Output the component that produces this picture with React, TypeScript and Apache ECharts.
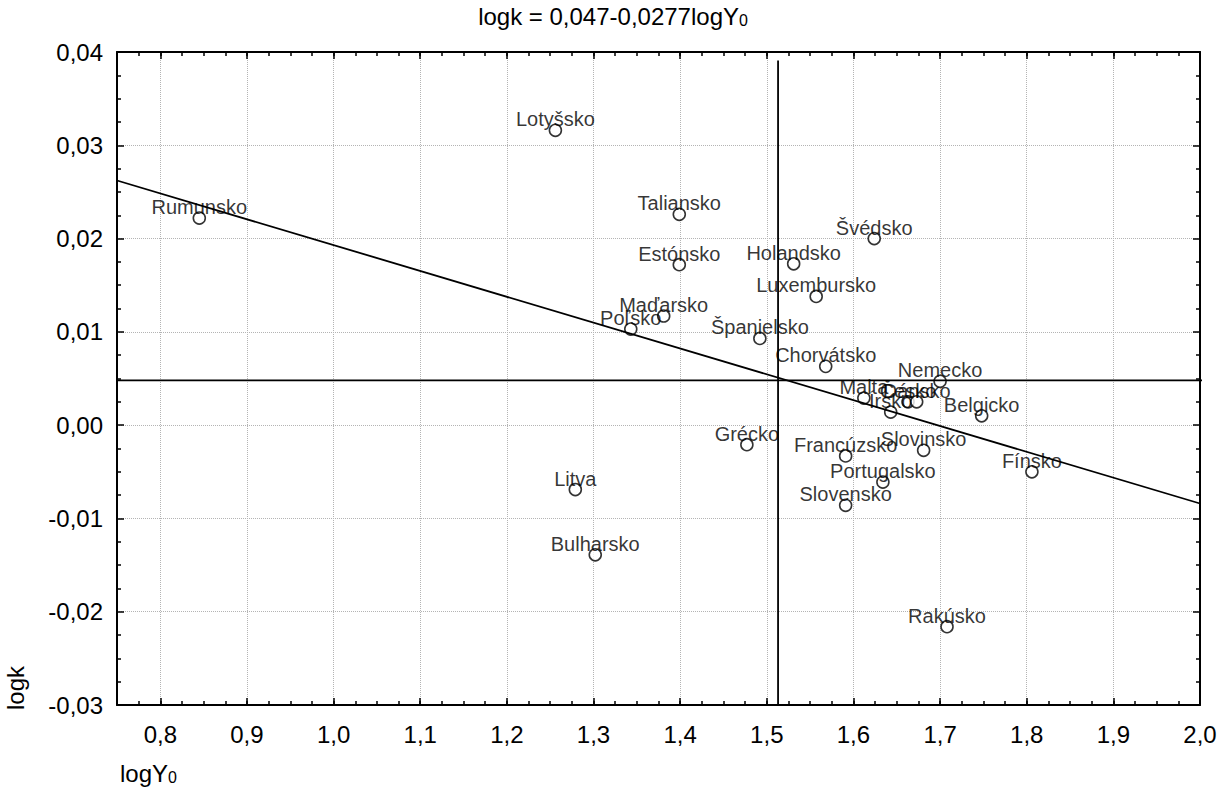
import React, { useEffect, useRef } from "react";
import * as echarts from "echarts";

const countries = [
  "Rumunsko", "Lotyšsko", "Taliansko", "Estónsko", "Švédsko", "Holandsko",
  "Luxembursko", "Maďarsko", "Poľsko", "Španielsko", "Chorvátsko", "Nemecko",
  "Malta", "Česko", "Dánsko", "Írsko", "Belgicko", "Grécko", "Francúzsko",
  "Slovinsko", "Fínsko", "Portugalsko", "Slovensko", "Litva", "Bulharsko", "Rakúsko",
];
const logY0 = [
  0.845, 1.256, 1.399, 1.399, 1.624, 1.531,
  1.557, 1.381, 1.343, 1.492, 1.568, 1.700,
  1.612, 1.663, 1.673, 1.643, 1.748, 1.477, 1.591,
  1.681, 1.806, 1.634, 1.591, 1.279, 1.302, 1.708,
];
const logk = [
  0.0222, 0.0316, 0.0226, 0.0172, 0.0200, 0.0173,
  0.0138, 0.0117, 0.0103, 0.0093, 0.0063, 0.0047,
  0.0029, 0.0025, 0.0025, 0.0014, 0.0010, -0.0021, -0.0033,
  -0.0027, -0.0050, -0.0061, -0.0086, -0.0069, -0.0139, -0.0216,
];

const intercept = 0.047;
const slope = -0.0277;
const lineEndsX = [0.75, 2.0];
const meanX = 1.513;
const meanXTop = 0.0391;
const meanY = 0.0048;
const meanYEnds = [0.75, 2.012];

const xTicks = [0.8, 0.9, 1.0, 1.1, 1.2, 1.3, 1.4, 1.5, 1.6, 1.7, 1.8, 1.9, 2.0];
const xMin = 0.75, xMax = 2.0;
const yMin = -0.03, yMax = 0.04;

const FONT = "'Liberation Sans', Arial, sans-serif";

export default function App() {
  const ref = useRef<HTMLDivElement>(null);
  useEffect(() => {
    if (!ref.current) return;
    const chart = echarts.init(ref.current, undefined, { renderer: "svg" });
    const grid = { left: 117, right: 25, top: 52, bottom: 86 };
    const fmtX = (v: number) => v.toFixed(1).replace(".", ",");
    const fmtY = (v: number) => (Math.abs(v) < 1e-9 ? 0 : v).toFixed(2).replace(".", ",");
    const majorX = (pos: string) => ({
      type: "value", gridIndex: 0, position: pos, min: xMin, max: xMax,
      axisLine: { show: true, onZero: false, lineStyle: { color: "#000", width: 2 } },
      axisTick: { show: true, inside: true, length: 7, customValues: xTicks, lineStyle: { color: "#000", width: 1.5 } },
      axisLabel: pos === "bottom"
        ? { show: true, customValues: xTicks, formatter: fmtX, fontSize: 24, color: "#000", fontFamily: FONT, margin: 17 }
        : { show: false },
      splitLine: pos === "bottom"
        ? { show: true, lineStyle: { color: "#b4b4b4", type: "dotted", width: 1 } }
        : { show: false },
    });
    const minorX = (pos: string) => ({
      type: "value", gridIndex: 1, position: pos, min: xMin, max: xMax, interval: 0.025,
      axisLine: { show: false, onZero: false },
      axisTick: { show: true, inside: true, length: 4, lineStyle: { color: "#000", width: 1.5 } },
      axisLabel: { show: false },
      splitLine: { show: false },
    });
    const majorY = (pos: string) => ({
      type: "value", gridIndex: 0, position: pos, min: yMin, max: yMax, interval: 0.01,
      axisLine: { show: true, onZero: false, lineStyle: { color: "#000", width: 2 } },
      axisTick: { show: true, inside: true, length: 7, lineStyle: { color: "#000", width: 1.5 } },
      minorTick: { show: true, splitNumber: 4, length: 4, lineStyle: { color: "#000", width: 1.5 } },
      axisLabel: pos === "left"
        ? { show: true, formatter: fmtY, fontSize: 24, color: "#000", fontFamily: FONT, margin: 14 }
        : { show: false },
      splitLine: pos === "left"
        ? { show: true, lineStyle: { color: "#b4b4b4", type: "dotted", width: 1 } }
        : { show: false },
    });
    const pts = countries.map((n, i) => ({ name: n, value: [logY0[i], logk[i]] }));
    const sub = {
      a: { fontSize: 24, fontFamily: FONT, fill: "#000", lineHeight: 28, verticalAlign: "bottom" },
      b: { fontSize: 16, fontFamily: FONT, fill: "#000", lineHeight: 16, padding: [16, 0, 0, 0], verticalAlign: "bottom" },
    };
    const option: any = {
      animation: false,
      backgroundColor: "#fff",
      grid: [grid, { ...grid }],
      xAxis: [majorX("bottom"), majorX("top"), minorX("bottom"), minorX("top")],
      yAxis: [
        majorY("left"), majorY("right"),
        { type: "value", gridIndex: 1, min: yMin, max: yMax, show: false },
      ],
      graphic: [
        {
          type: "text", x: 613, y: 0,
          style: { text: "{a|logk = 0,047-0,0277logY}{b|0}", align: "center", verticalAlign: "top", rich: sub },
        },
        {
          type: "text", x: 120, y: 757,
          style: { text: "{a|logY}{b|0}", align: "left", verticalAlign: "top", rich: sub },
        },
        {
          type: "text", x: 15, y: 688, rotation: Math.PI / 2,
          style: { text: "logk", fontSize: 24, fontFamily: FONT, fill: "#000", align: "center", verticalAlign: "middle" },
        },
      ],
      series: [
        {
          type: "line", xAxisIndex: 0, yAxisIndex: 0, symbol: "none", silent: true,
          lineStyle: { color: "#000", width: 1.8 },
          data: lineEndsX.map((x) => [x, intercept + slope * x]),
        },
        {
          type: "line", xAxisIndex: 0, yAxisIndex: 0, symbol: "none", silent: true,
          lineStyle: { color: "#000", width: 1.8 },
          data: [[meanX, meanXTop], [meanX, yMin]],
        },
        {
          type: "line", xAxisIndex: 0, yAxisIndex: 0, symbol: "none", silent: true, clip: false,
          lineStyle: { color: "#000", width: 1.8 },
          data: meanYEnds.map((x) => [x, meanY]),
        },
        {
          type: "scatter", xAxisIndex: 0, yAxisIndex: 0,
          symbol: "circle", symbolSize: 12,
          itemStyle: { color: "#fff", borderColor: "#000", borderWidth: 1.6 },
          label: {
            show: true, position: "inside", offset: [0, -11],
            formatter: (p: any) => p.name,
            fontSize: 20, fontFamily: FONT, color: "#000",
          },
          data: pts,
        },
      ],
    };
    chart.setOption(option);
    return () => chart.dispose();
  }, []);
  return (
    <div
      ref={ref}
      style={{ position: "fixed", left: 0, top: 0, width: 1225, height: 791, background: "#fff" }}
    />
  );
}
